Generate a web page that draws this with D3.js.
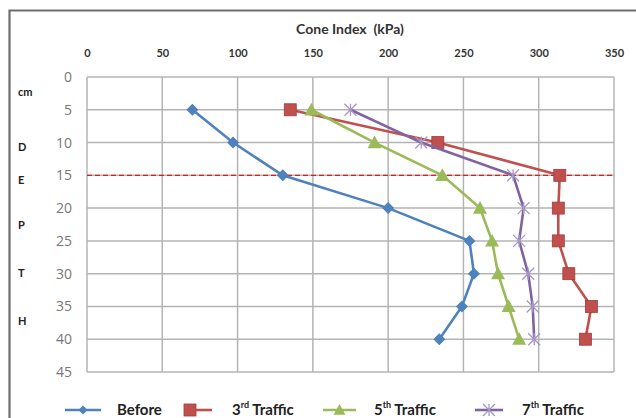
<!DOCTYPE html>
<html>
<head>
<meta charset="utf-8">
<script src="https://cdn.jsdelivr.net/npm/d3@7"></script>
<style>
  body { margin: 0; background: #fff; }
  svg { display: block; }
</style>
</head>
<body>
<div class="chart"></div>
<script>
// depth (cm) on the y axis, cone index (kPa) on the x axis
var depths = [5, 10, 15, 20, 25, 30, 35, 40];
var before = [70, 97, 130, 200, 254, 257, 249, 234];
var traffic3 = [135, 233, 314, 313, 313, 320, 335, 331];
var traffic5 = [149, 191, 236, 261, 269, 273, 280, 287];
var traffic7 = [175, 222, 283, 290, 287, 293, 296, 297];
var xTicks = [0, 50, 100, 150, 200, 250, 300, 350];
var yTicks = [0, 5, 10, 15, 20, 25, 30, 35, 40, 45];
var sideLetters = ["cm", "D", "E", "P", "T", "H"];

var width = 636, height = 418;
var plot = {left: 87, right: 614, top: 77, bottom: 372};

var svg = d3.select(".chart").append("svg")
    .attr("width", width)
    .attr("height", height);

// outer frame (only left and top edges are visible in the crop)
svg.append("path")
    .attr("d", "M9.5," + height + " V10.5 H" + width)
    .attr("fill", "none")
    .attr("stroke", "#6e6e6e")
    .attr("stroke-width", 2.2);

var x = d3.scaleLinear().domain([0, 350]).range([plot.left, plot.right]);
var y = d3.scaleLinear().domain([0, 45]).range([plot.top, plot.bottom]);

// gridlines
svg.append("g")
    .selectAll("line.v")
    .data(xTicks)
    .enter().append("line")
      .attr("x1", function(d) { return x(d); })
      .attr("x2", function(d) { return x(d); })
      .attr("y1", plot.top)
      .attr("y2", plot.bottom)
      .attr("stroke", "#b4b4b4")
      .attr("stroke-width", 1.5);
svg.append("g")
    .selectAll("line.h")
    .data(yTicks)
    .enter().append("line")
      .attr("x1", plot.left)
      .attr("x2", plot.right)
      .attr("y1", function(d) { return y(d); })
      .attr("y2", function(d) { return y(d); })
      .attr("stroke", "#b4b4b4")
      .attr("stroke-width", 1.5);

// top axis labels
var xAxis = svg.append("g")
    .attr("transform", "translate(0,60)")
    .call(d3.axisTop(x).tickValues(xTicks).tickSize(0).tickPadding(0));
xAxis.select(".domain").remove();
xAxis.selectAll("text")
    .attr("font-family", "Lato, 'Open Sans', sans-serif")
    .attr("font-weight", "bold")
    .attr("font-size", 11)
    .attr("fill", "#333")
    .attr("dy", -3);

svg.append("text")
    .attr("x", 350)
    .attr("y", 34)
    .attr("text-anchor", "middle")
    .attr("font-family", "Lato, 'Open Sans', sans-serif")
    .attr("font-weight", "bold")
    .attr("font-size", 14)
    .attr("fill", "#333")
    .style("white-space", "pre")
    .text("Cone Index  (kPa)");

// left axis labels
var yAxis = svg.append("g")
    .attr("transform", "translate(72,0)")
    .call(d3.axisLeft(y).tickValues(yTicks).tickSize(0).tickPadding(0));
yAxis.select(".domain").remove();
yAxis.selectAll("text")
    .attr("font-family", "'Open Sans', sans-serif")
    .attr("font-size", 14)
    .attr("fill", "#777");

// DEPTH letters
var letterY = [92, 147, 180, 225, 273, 321];
svg.append("g")
    .selectAll("text")
    .data(sideLetters)
    .enter().append("text")
      .attr("x", 18)
      .attr("y", function(d, i) { return letterY[i]; })
      .attr("dy", "0.35em")
      .attr("font-family", "Lato, 'Open Sans', sans-serif")
      .attr("font-weight", "bold")
      .attr("font-size", 11)
      .attr("fill", "#222")
      .text(function(d) { return d; });

// dashed reference line at 15 cm
svg.append("line")
    .attr("x1", plot.left)
    .attr("x2", plot.right)
    .attr("y1", y(15))
    .attr("y2", y(15))
    .attr("stroke", "#d42020")
    .attr("stroke-width", 1.2)
    .attr("stroke-dasharray", "5,3");

var series = [
  {name: "Before", values: before, color: "#4f81bd", marker: "diamond"},
  {name: "3rd", values: traffic3, color: "#c0504d", marker: "square"},
  {name: "5th", values: traffic5, color: "#9bbb59", marker: "triangle"},
  {name: "7th", values: traffic7, color: "#8064a2", marker: "x"}
];

var line = d3.line()
    .x(function(d) { return x(d[0]); })
    .y(function(d) { return y(d[1]); });

function drawMarker(g, type, color, cx, cy, s) {
  if (type === "diamond") {
    g.append("path")
      .attr("d", "M" + cx + "," + (cy - s) + " L" + (cx + s) + "," + cy + " L" + cx + "," + (cy + s) + " L" + (cx - s) + "," + cy + "Z")
      .attr("fill", color);
  } else if (type === "square") {
    g.append("rect")
      .attr("x", cx - s).attr("y", cy - s)
      .attr("width", 2 * s).attr("height", 2 * s)
      .attr("fill", color)
      .attr("stroke", "#a33c39").attr("stroke-width", 0.8);
  } else if (type === "triangle") {
    g.append("path")
      .attr("d", "M" + cx + "," + (cy - s) + " L" + (cx + s) + "," + (cy + s * 0.8) + " L" + (cx - s) + "," + (cy + s * 0.8) + "Z")
      .attr("fill", color);
  } else {
    g.append("path")
      .attr("d", "M" + (cx - s) + "," + (cy - s) + " L" + (cx + s) + "," + (cy + s) + " M" + (cx + s) + "," + (cy - s) + " L" + (cx - s) + "," + (cy + s) + " M" + cx + "," + (cy - s) + " L" + cx + "," + (cy + s))
      .attr("stroke", "#a897c4")
      .attr("stroke-width", 1.3)
      .attr("fill", "none");
  }
}

var markerSize = {diamond: 6, square: 6, triangle: 7, x: 6};

series.forEach(function(s) {
  var pts = s.values.map(function(v, i) { return [v, depths[i]]; });
  svg.append("path")
      .datum(pts)
      .attr("d", line)
      .attr("fill", "none")
      .attr("stroke", s.color)
      .attr("stroke-width", 2.6);
  var g = svg.append("g");
  pts.forEach(function(p) {
    drawMarker(g, s.marker, s.color, x(p[0]), y(p[1]), markerSize[s.marker]);
  });
});

// legend
var legendY = 410;
var legend = [
  {s: series[0], x1: 65, x2: 101, tx: 117, label: "Before", sup: ""},
  {s: series[1], x1: 185, x2: 212, tx: 232, label: "3", sup: "rd"},
  {s: series[2], x1: 323, x2: 356, tx: 374, label: "5", sup: "th"},
  {s: series[3], x1: 475, x2: 503, tx: 522, label: "7", sup: "th"}
];
legend.forEach(function(l) {
  var g = svg.append("g");
  g.append("line")
    .attr("x1", l.x1).attr("x2", l.x2)
    .attr("y1", legendY).attr("y2", legendY)
    .attr("stroke", l.s.color)
    .attr("stroke-width", 2.6);
  var mx = l.s.marker === "square" ? l.x1 + 5 : (l.x1 + l.x2) / 2;
  drawMarker(g, l.s.marker, l.s.color, mx, legendY, l.s.marker === "diamond" ? 4.5 : 6);
  var t = g.append("text")
    .attr("x", l.tx)
    .attr("y", legendY + 5)
    .attr("font-family", "Lato, 'Open Sans', sans-serif")
    .attr("font-weight", "bold")
    .attr("font-size", 15)
    .attr("fill", "#222");
  t.append("tspan").text(l.label);
  if (l.sup) {
    t.append("tspan").attr("font-size", 9).attr("dy", -7).text(l.sup);
    t.append("tspan").attr("dy", 7).text(" Traffic");
  }
});
</script>
</body>
</html>
